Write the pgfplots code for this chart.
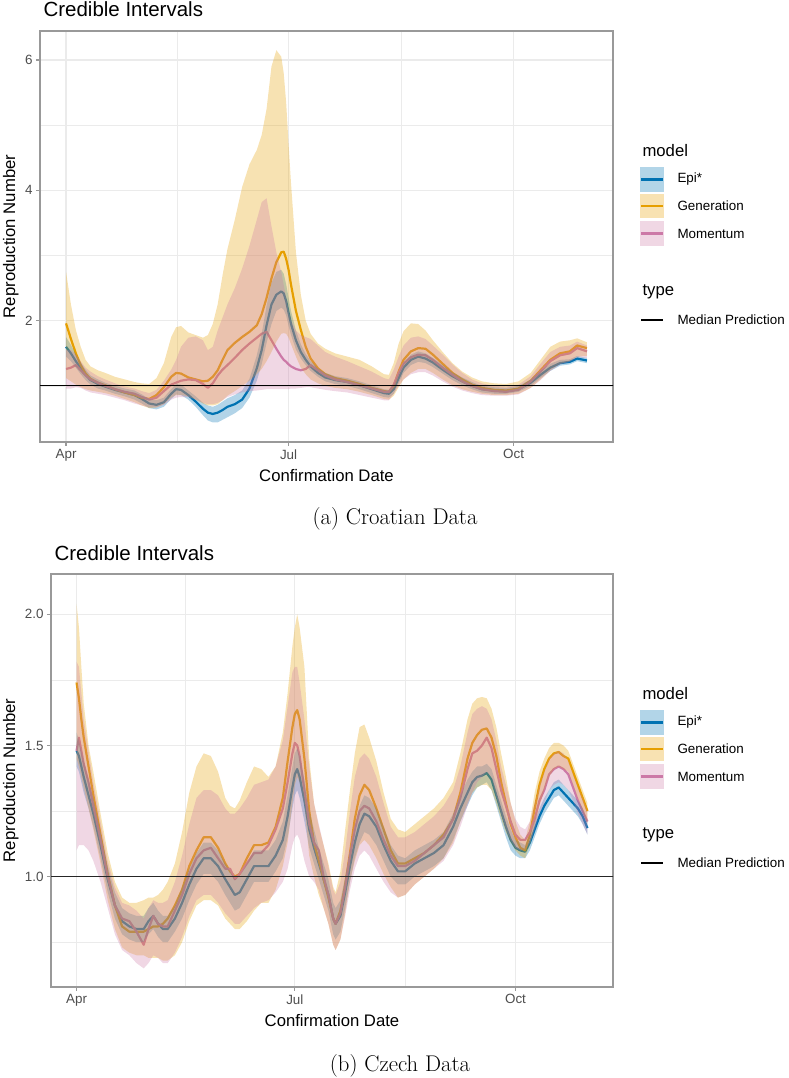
\documentclass[border=0pt]{standalone}
\usepackage{fontspec}
\setsansfont{Liberation Sans}
\usepackage{pgfplots}
\pgfplotsset{compat=1.18}
\usepackage{pgfplotstable}
\usepgfplotslibrary{fillbetween}

\definecolor{ecol}{HTML}{0072B2}
\definecolor{gcol}{HTML}{E69F00}
\definecolor{mcol}{HTML}{CC79A7}
\definecolor{gridc}{HTML}{EBEBEB}
\definecolor{borderc}{HTML}{999999}
\definecolor{tickc}{HTML}{4D4D4D}

% d = days since 1 April; e/g/m = Epi*, Generation, Momentum; m/l/h = median, lower, upper
\pgfplotstableread{
d em el eh gm gl gh mm ml mh
0 1.60 1.45 1.75 1.96 1.12 2.75 1.26 0.96 1.55
2 1.50 1.38 1.63 1.72 1.07 2.25 1.28 0.96 1.55
4 1.38 1.28 1.48 1.50 1.02 1.86 1.32 0.98 1.48
6 1.27 1.18 1.36 1.32 0.98 1.60 1.24 0.97 1.38
8 1.17 1.09 1.25 1.19 0.95 1.40 1.16 0.93 1.28
10 1.09 1.02 1.16 1.11 0.93 1.30 1.10 0.90 1.22
13 1.03 0.96 1.10 1.05 0.91 1.24 1.05 0.88 1.15
16 0.99 0.93 1.05 1.01 0.89 1.20 1.00 0.86 1.10
20 0.94 0.88 1.00 0.95 0.85 1.14 0.95 0.82 1.04
24 0.90 0.84 0.96 0.90 0.80 1.10 0.91 0.78 0.99
28 0.86 0.79 0.93 0.86 0.75 1.06 0.88 0.73 0.96
31 0.80 0.73 0.87 0.82 0.70 1.04 0.83 0.70 0.92
34 0.73 0.66 0.80 0.80 0.66 1.03 0.79 0.67 0.89
37 0.71 0.64 0.78 0.86 0.67 1.12 0.82 0.67 0.94
40 0.75 0.68 0.82 0.98 0.72 1.35 0.92 0.71 1.08
43 0.88 0.80 0.95 1.14 0.82 1.75 1.02 0.79 1.25
45 0.95 0.87 1.03 1.20 0.86 1.90 1.05 0.82 1.40
47 0.94 0.86 1.02 1.19 0.86 1.92 1.08 0.83 1.60
50 0.86 0.79 0.93 1.13 0.84 1.82 1.10 0.83 1.74
53 0.76 0.68 0.84 1.10 0.79 1.78 1.09 0.79 1.76
56 0.65 0.55 0.74 1.07 0.73 1.74 1.03 0.74 1.70
58 0.59 0.47 0.70 1.08 0.70 1.78 0.97 0.72 1.55
60 0.57 0.44 0.68 1.14 0.70 1.95 1.04 0.72 1.60
62 0.59 0.44 0.71 1.24 0.72 2.25 1.16 0.74 1.85
64 0.63 0.48 0.76 1.40 0.78 2.70 1.25 0.78 2.05
66 0.68 0.52 0.81 1.55 0.85 3.10 1.32 0.83 2.25
69 0.72 0.58 0.86 1.66 0.92 3.55 1.43 0.87 2.50
72 0.79 0.66 0.93 1.75 1.00 4.05 1.55 0.90 2.80
75 0.96 0.82 1.11 1.83 1.08 4.40 1.65 0.92 3.15
78 1.27 1.08 1.47 1.93 1.18 4.62 1.74 0.93 3.55
80 1.55 1.33 1.80 2.10 1.26 4.85 1.80 0.94 3.82
82 1.93 1.66 2.23 2.35 1.38 5.25 1.83 0.95 3.88
84 2.25 1.95 2.58 2.65 1.52 5.90 1.70 0.95 3.45
86 2.40 2.15 2.75 2.90 1.68 6.15 1.57 0.95 3.05
88 2.45 2.20 2.78 3.05 1.80 6.05 1.45 0.95 2.75
89 2.42 2.17 2.72 3.06 1.81 5.80 1.40 0.95 2.55
90 2.30 2.08 2.56 2.95 1.80 5.35 1.37 0.95 2.35
91 2.12 1.92 2.35 2.78 1.74 4.70 1.33 0.95 2.15
92 1.95 1.78 2.15 2.55 1.64 4.10 1.30 0.96 2.00
94 1.70 1.56 1.85 2.15 1.45 3.05 1.26 0.96 1.85
96 1.52 1.42 1.64 1.86 1.28 2.40 1.24 0.97 1.78
98 1.40 1.32 1.49 1.60 1.18 2.00 1.26 0.98 1.75
100 1.30 1.23 1.38 1.42 1.10 1.80 1.32 0.98 1.72
103 1.20 1.14 1.27 1.27 1.04 1.65 1.24 0.96 1.62
106 1.13 1.07 1.20 1.18 1.00 1.57 1.16 0.94 1.52
110 1.09 1.03 1.15 1.12 0.97 1.50 1.10 0.92 1.45
115 1.06 1.00 1.12 1.08 0.95 1.45 1.06 0.90 1.38
120 1.01 0.95 1.07 1.03 0.91 1.40 1.01 0.86 1.30
125 0.95 0.89 1.01 0.97 0.86 1.30 0.96 0.82 1.22
130 0.89 0.83 0.95 0.92 0.80 1.18 0.91 0.78 1.12
132 0.88 0.82 0.94 0.91 0.79 1.17 0.91 0.78 1.10
134 0.95 0.88 1.02 1.00 0.85 1.35 1.02 0.88 1.25
136 1.12 1.04 1.20 1.22 0.98 1.65 1.20 1.00 1.45
138 1.28 1.20 1.36 1.40 1.10 1.84 1.34 1.10 1.62
141 1.40 1.32 1.48 1.53 1.20 1.96 1.44 1.18 1.74
144 1.45 1.37 1.53 1.58 1.26 1.95 1.48 1.21 1.76
147 1.42 1.35 1.50 1.57 1.26 1.85 1.47 1.21 1.72
150 1.36 1.29 1.43 1.48 1.20 1.70 1.40 1.16 1.62
154 1.25 1.19 1.32 1.34 1.10 1.52 1.28 1.07 1.48
158 1.15 1.09 1.21 1.20 1.01 1.35 1.17 0.99 1.33
162 1.07 1.01 1.13 1.10 0.95 1.22 1.07 0.93 1.20
166 1.00 0.95 1.06 1.02 0.91 1.13 1.00 0.89 1.10
170 0.95 0.90 1.00 0.97 0.88 1.07 0.95 0.86 1.04
175 0.93 0.88 0.98 0.94 0.86 1.04 0.92 0.85 1.00
180 0.92 0.88 0.97 0.93 0.86 1.03 0.91 0.85 0.99
185 0.95 0.91 1.00 0.96 0.88 1.07 0.94 0.87 1.02
190 1.05 1.00 1.10 1.08 0.97 1.20 1.07 0.97 1.15
194 1.17 1.12 1.23 1.24 1.10 1.40 1.22 1.09 1.34
198 1.28 1.23 1.34 1.40 1.24 1.60 1.38 1.23 1.52
202 1.35 1.31 1.40 1.50 1.34 1.68 1.47 1.33 1.60
206 1.37 1.33 1.41 1.53 1.38 1.70 1.50 1.37 1.62
209 1.42 1.38 1.46 1.62 1.45 1.73 1.58 1.44 1.68
213 1.39 1.35 1.43 1.58 1.46 1.67 1.53 1.43 1.62
}\croatia

\pgfplotstableread{
d em el eh gm gl gh mm ml mh
0 1.48 1.42 1.55 1.74 1.45 2.04 1.48 1.10 1.82
1 1.46 1.40 1.52 1.68 1.42 1.95 1.53 1.12 1.80
2 1.42 1.36 1.48 1.60 1.38 1.80 1.48 1.12 1.70
3 1.38 1.32 1.44 1.53 1.34 1.66 1.43 1.12 1.60
5 1.31 1.26 1.37 1.42 1.26 1.50 1.36 1.10 1.48
7 1.24 1.19 1.30 1.31 1.18 1.40 1.27 1.06 1.36
10 1.12 1.07 1.17 1.16 1.05 1.24 1.14 0.98 1.21
13 0.99 0.94 1.04 1.01 0.91 1.09 1.00 0.88 1.06
16 0.89 0.84 0.94 0.89 0.80 0.98 0.89 0.78 0.96
19 0.83 0.78 0.88 0.81 0.73 0.92 0.84 0.72 0.90
22 0.81 0.76 0.86 0.79 0.71 0.90 0.83 0.70 0.89
25 0.80 0.75 0.85 0.79 0.70 0.90 0.79 0.67 0.87
28 0.80 0.75 0.85 0.79 0.70 0.91 0.74 0.65 0.84
30 0.83 0.78 0.88 0.80 0.69 0.92 0.80 0.67 0.88
32 0.85 0.80 0.90 0.81 0.69 0.92 0.85 0.70 0.91
34 0.82 0.77 0.87 0.81 0.69 0.93 0.82 0.69 0.90
36 0.80 0.75 0.85 0.82 0.68 0.95 0.81 0.67 0.90
38 0.80 0.75 0.85 0.84 0.68 0.98 0.81 0.67 0.91
41 0.84 0.79 0.89 0.89 0.70 1.05 0.87 0.71 0.98
44 0.90 0.84 0.96 0.95 0.75 1.17 0.93 0.77 1.08
47 0.97 0.91 1.03 1.04 0.83 1.32 1.01 0.85 1.20
50 1.03 0.97 1.09 1.10 0.89 1.42 1.07 0.91 1.30
53 1.07 1.01 1.13 1.15 0.91 1.47 1.10 0.93 1.33
56 1.07 1.01 1.13 1.15 0.91 1.46 1.11 0.93 1.33
59 1.04 0.98 1.10 1.11 0.89 1.40 1.07 0.90 1.31
62 0.99 0.93 1.05 1.05 0.84 1.30 1.03 0.86 1.26
64 0.96 0.90 1.02 1.02 0.82 1.27 1.03 0.84 1.24
66 0.93 0.87 0.99 1.00 0.80 1.26 0.99 0.82 1.24
68 0.94 0.88 1.00 1.01 0.80 1.29 1.01 0.82 1.26
71 0.99 0.93 1.05 1.07 0.83 1.36 1.05 0.85 1.30
74 1.04 0.98 1.10 1.12 0.87 1.42 1.09 0.88 1.35
77 1.04 0.98 1.10 1.12 0.90 1.41 1.09 0.90 1.36
80 1.04 0.98 1.10 1.13 0.90 1.38 1.12 0.91 1.37
83 1.08 1.02 1.14 1.19 0.95 1.42 1.18 0.94 1.42
86 1.14 1.07 1.21 1.30 1.04 1.55 1.26 0.98 1.52
88 1.23 1.15 1.31 1.44 1.13 1.70 1.36 1.03 1.65
90 1.34 1.26 1.42 1.57 1.28 1.88 1.47 1.12 1.78
91 1.39 1.31 1.47 1.62 1.35 1.95 1.51 1.15 1.80
92 1.41 1.33 1.49 1.635 1.38 2.00 1.50 1.16 1.80
93 1.38 1.30 1.46 1.60 1.36 1.95 1.46 1.14 1.74
95 1.29 1.21 1.37 1.45 1.27 1.80 1.33 1.06 1.60
97 1.18 1.11 1.25 1.25 1.08 1.45 1.20 1.00 1.42
99 1.11 1.05 1.18 1.13 1.00 1.28 1.13 0.98 1.28
101 1.05 0.99 1.11 1.06 0.93 1.19 1.10 0.95 1.20
103 0.99 0.93 1.05 0.99 0.88 1.12 1.00 0.88 1.12
105 0.93 0.87 0.99 0.92 0.82 1.05 0.93 0.82 1.04
107 0.84 0.78 0.90 0.84 0.74 0.96 0.84 0.74 0.95
108 0.82 0.76 0.88 0.82 0.72 0.94 0.82 0.72 0.93
110 0.85 0.79 0.91 0.87 0.76 1.02 0.86 0.76 0.98
112 0.94 0.88 1.00 0.97 0.86 1.18 0.96 0.85 1.10
114 1.04 0.98 1.10 1.09 0.98 1.33 1.08 0.95 1.25
116 1.13 1.07 1.19 1.22 1.06 1.47 1.18 1.03 1.38
118 1.20 1.13 1.27 1.31 1.12 1.57 1.25 1.08 1.45
120 1.24 1.17 1.31 1.35 1.14 1.58 1.27 1.10 1.47
122 1.23 1.16 1.30 1.33 1.12 1.53 1.26 1.08 1.45
125 1.19 1.12 1.26 1.26 1.07 1.44 1.21 1.03 1.38
128 1.12 1.06 1.19 1.18 1.01 1.32 1.14 0.98 1.28
131 1.06 1.00 1.12 1.10 0.96 1.22 1.08 0.94 1.19
134 1.02 0.97 1.08 1.05 0.92 1.18 1.04 0.92 1.15
137 1.02 0.97 1.07 1.05 0.93 1.17 1.04 0.93 1.15
141 1.05 1.00 1.10 1.07 0.97 1.20 1.06 0.97 1.17
145 1.07 1.02 1.12 1.09 1.00 1.23 1.09 1.00 1.20
149 1.09 1.04 1.14 1.12 1.03 1.26 1.12 1.03 1.23
153 1.12 1.07 1.17 1.16 1.07 1.30 1.15 1.06 1.27
157 1.19 1.14 1.24 1.22 1.13 1.36 1.22 1.12 1.33
160 1.26 1.21 1.31 1.32 1.21 1.47 1.30 1.19 1.42
163 1.32 1.27 1.37 1.45 1.28 1.60 1.41 1.27 1.55
165 1.36 1.31 1.40 1.51 1.32 1.66 1.47 1.32 1.62
167 1.38 1.34 1.42 1.54 1.34 1.68 1.48 1.36 1.64
169 1.385 1.35 1.42 1.56 1.35 1.685 1.50 1.38 1.65
171 1.395 1.36 1.43 1.565 1.35 1.68 1.53 1.40 1.64
173 1.37 1.33 1.41 1.53 1.33 1.64 1.49 1.38 1.60
175 1.31 1.27 1.35 1.46 1.28 1.57 1.41 1.31 1.52
177 1.25 1.21 1.29 1.36 1.22 1.47 1.33 1.24 1.42
179 1.19 1.15 1.23 1.28 1.17 1.38 1.27 1.18 1.35
181 1.14 1.10 1.18 1.20 1.13 1.28 1.21 1.14 1.28
183 1.11 1.08 1.14 1.15 1.10 1.21 1.16 1.11 1.22
185 1.10 1.07 1.13 1.11 1.08 1.16 1.14 1.10 1.19
187 1.095 1.07 1.12 1.10 1.07 1.14 1.14 1.10 1.18
189 1.13 1.10 1.16 1.16 1.12 1.21 1.17 1.13 1.21
191 1.18 1.15 1.21 1.26 1.19 1.32 1.22 1.18 1.28
193 1.23 1.20 1.26 1.35 1.27 1.40 1.29 1.24 1.35
195 1.27 1.24 1.30 1.41 1.33 1.45 1.33 1.28 1.40
197 1.30 1.27 1.33 1.45 1.38 1.49 1.39 1.33 1.45
199 1.33 1.30 1.36 1.47 1.41 1.51 1.41 1.35 1.47
201 1.34 1.31 1.37 1.475 1.42 1.51 1.42 1.36 1.48
203 1.32 1.29 1.35 1.46 1.41 1.50 1.41 1.35 1.47
205 1.30 1.27 1.33 1.45 1.40 1.48 1.39 1.33 1.44
207 1.28 1.25 1.31 1.40 1.35 1.43 1.34 1.29 1.39
209 1.26 1.23 1.29 1.35 1.30 1.38 1.29 1.24 1.34
211 1.23 1.20 1.26 1.30 1.25 1.33 1.25 1.20 1.30
213 1.185 1.16 1.21 1.25 1.20 1.28 1.21 1.16 1.25
}\czech

\pgfplotsset{
  panel/.style={
    set layers,
    scale only axis, anchor=south west,
    xmin=-10.65, xmax=223.65,
    xtick={0,91,183}, xticklabels={Apr,Jul,Oct},
    minor xtick={45.5,137},
    xtick pos=left, ytick pos=left,
    tick align=outside,
    major tick length=4pt, minor tick length=0pt,
    tick style={borderc, line width=1.1pt},
    axis line style={borderc, line width=1.3pt},
    grid=both,
    major grid style={gridc, line width=1.1pt},
    minor grid style={gridc, line width=0.6pt},
    tick label style={font=\sffamily\fontsize{13.4}{16}\selectfont, text=tickc},
  },
  med/.style={line width=2.2pt, line join=round, forget plot, on layer=pre main},
  bound/.style={draw=none, forget plot},
}

% median lines first, then the three credible bands over them
\newcommand\ribbons[1]{%
  \addplot[med, ecol] table[x=d, y=em] {#1};
  \addplot[med, gcol] table[x=d, y=gm] {#1};
  \addplot[med, mcol] table[x=d, y=mm] {#1};
  \addplot[bound, name path=el] table[x=d, y=el] {#1};
  \addplot[bound, name path=eh] table[x=d, y=eh] {#1};
  \addplot[fill=ecol, fill opacity=0.3, draw=none, forget plot] fill between[of=eh and el];
  \addplot[bound, name path=gl] table[x=d, y=gl] {#1};
  \addplot[bound, name path=gh] table[x=d, y=gh] {#1};
  \addplot[fill=gcol, fill opacity=0.3, draw=none, forget plot] fill between[of=gh and gl];
  \addplot[bound, name path=ml] table[x=d, y=ml] {#1};
  \addplot[bound, name path=mh] table[x=d, y=mh] {#1};
  \addplot[fill=mcol, fill opacity=0.3, draw=none, forget plot] fill between[of=mh and ml];
}

\begin{document}
\begin{tikzpicture}

% (a) Croatia
\begin{axis}[panel, at={(40pt,636pt)}, width=573pt, height=411pt,
    ymin=0.14, ymax=6.445,
    ytick={2,4,6}, yticklabels={2,4,6}, minor ytick={1,3,5}]
  \ribbons{\croatia}
  \addplot[black, line width=1.1pt, forget plot] coordinates {(-20,1) (240,1)};
\end{axis}

% (b) Czech
\begin{axis}[panel, at={(51pt,91pt)}, width=562pt, height=413pt,
    ymin=0.579, ymax=2.154,
    ytick={1,1.5,2}, yticklabels={1.0,1.5,2.0}, minor ytick={0.75,1.25,1.75}]
  \ribbons{\czech}
  \addplot[black!85, line width=1.4pt, forget plot] coordinates {(-20,1) (240,1)};
\end{axis}

\begin{scope}[x=1pt, y=1pt]
  \node[anchor=base west, font=\sffamily\fontsize{20.5}{24}\selectfont] at (40,1061.5) {Credible Intervals};
  \node[anchor=base west, font=\sffamily\fontsize{20.5}{24}\selectfont] at (51,517) {Credible Intervals};
  \node[anchor=base, font=\sffamily\fontsize{16.7}{20}\selectfont] at (326.5,596) {Confirmation Date};
  \node[anchor=base, font=\sffamily\fontsize{16.7}{20}\selectfont] at (332,51) {Confirmation Date};
  \node[anchor=base, rotate=90, font=\sffamily\fontsize{16.7}{20}\selectfont] at (15,841.5) {Reproduction Number};
  \node[anchor=base, rotate=90, font=\sffamily\fontsize{16.7}{20}\selectfont] at (15,297.5) {Reproduction Number};
  \node[anchor=base, font=\rmfamily\fontsize{22.7}{26}\selectfont] at (395,553) {(a) Croatian Data};
  \node[anchor=base, font=\rmfamily\fontsize{22.7}{26}\selectfont] at (400,6) {(b) Czech Data};

  % legends
  \foreach \o in {0,543} {
    \node[anchor=base west, font=\sffamily\fontsize{16.7}{20}\selectfont] at (639,{921-\o}) {model};
    \fill[ecol!30] (640,{886-\o}) rectangle (664,{911-\o});
    \draw[ecol, line width=2.2pt] (641,{898.5-\o}) -- (663,{898.5-\o});
    \fill[gcol!30] (640,{860-\o}) rectangle (664,{884-\o});
    \draw[gcol, line width=2.2pt] (641,{872-\o}) -- (663,{872-\o});
    \fill[mcol!30] (640,{832-\o}) rectangle (664,{857-\o});
    \draw[mcol, line width=2.2pt] (641,{844.5-\o}) -- (663,{844.5-\o});
    \node[anchor=west, font=\sffamily\fontsize{13.4}{16}\selectfont] at (674,{898.5-\o}) {Epi*};
    \node[anchor=west, font=\sffamily\fontsize{13.4}{16}\selectfont] at (674,{872-\o}) {Generation};
    \node[anchor=west, font=\sffamily\fontsize{13.4}{16}\selectfont] at (674,{844.5-\o}) {Momentum};
    \node[anchor=base west, font=\sffamily\fontsize{16.7}{20}\selectfont] at (639,{782.3-\o}) {type};
    \draw[black, line width=2.2pt] (641,{758-\o}) -- (663,{758-\o});
    \node[anchor=west, font=\sffamily\fontsize{13.4}{16}\selectfont] at (674,{758-\o}) {Median Prediction};
  }
\end{scope}
\pgfresetboundingbox
\useasboundingbox (0pt,0pt) rectangle (789pt,1078pt);
\end{tikzpicture}
\end{document}
